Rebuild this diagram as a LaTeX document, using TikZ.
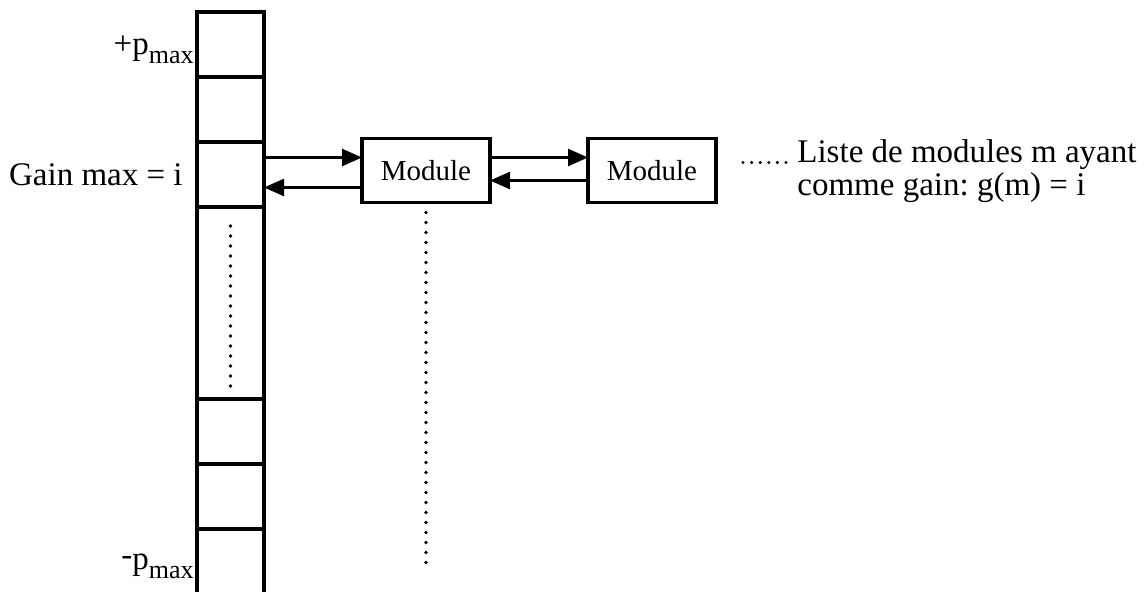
\documentclass[tikz,border=0pt]{standalone}
\usepackage{fontspec}
\setmainfont{Liberation Serif}
\usepackage{xcolor}
\usepackage{tikz}
\usetikzlibrary{arrows.meta,positioning}
\newcommand{\subidx}[1]{\raisebox{-4.5pt}{\fontsize{13}{13}\selectfont #1}}

\begin{document}
\begin{tikzpicture}[
  x=0.5pt, y=-0.5pt,
  font=\fontsize{16.5}{16.5}\selectfont,
  cell/.style={draw, line width=1.8pt, minimum width=33.5pt, minimum height=32.5pt, inner sep=0pt, outer sep=0pt},
  module/.style={draw, line width=1.8pt, minimum width=64pt, minimum height=32pt, outer sep=0pt, font=\fontsize{14.5}{14.5}\selectfont},
  lbl/.style={inner sep=0pt},
  arr/.style={-{Triangle[length=10pt,width=8.5pt]}, line width=1.3pt},
  dots/.style={line width=1.8pt, line cap=round, dash pattern=on 0pt off 5pt},
  lead/.style={line width=1.7pt, line cap=round, dash pattern=on 0pt off 4.3pt}
]
  \useasboundingbox (0,0) rectangle (1147,591);

  % colonne des gains
  \node[cell] (c1) at (230.5,44.5) {};
  \node[cell, below=0pt of c1] (c2) {};
  \node[cell, below=0pt of c2] (c3) {};
  \node[cell, below=0pt of c3, minimum height=96pt] (c4) {};
  \node[cell, below=0pt of c4] (c5) {};
  \node[cell, below=0pt of c5] (c6) {};
  \node[cell, below=0pt of c6] (c7) {};

  \node[lbl, left=1.5pt of c1, yshift=-2.4pt] (pmax) {+p\subidx{max}};
  \node[lbl, left=7pt of c3] (gain) {Gain max = i};
  \node[lbl, left=1.5pt of c7, yshift=-2.4pt] (mmax) {\raisebox{2pt}{-}p\subidx{max}};

  % liste des modules
  \node[module, right=49pt of c3, yshift=2pt] (m1) {Module};
  \node[module, right=49pt of m1] (m2) {Module};
  \node[lbl, anchor=north west, align=left] (lst) at (797,139.5)
    {Liste de modules m ayant\\comme gain:\ g(m) = i};

  \coordinate (a1) at ([yshift=6.5pt]m1.west);
  \coordinate (a2) at ([yshift=-8.5pt]m1.west);
  \draw[arr] (a1 -| c3.east) -- (a1);
  \draw[arr] (a2) -- (a2 -| c3.east);
  \draw[arr] ([yshift=6.5pt]m1.east) -- ([yshift=6.5pt]m2.west);
  \draw[arr] ([yshift=-5pt]m2.west) -- ([yshift=-5pt]m1.east);

  \coordinate (t0) at ([xshift=13.5pt,yshift=4pt]m2.east);
  \draw[lead] (t0) -- ++(21.6pt,0);

  \coordinate[below=181pt of m1.south] (m1end);
  \draw[dots] ([yshift=-5pt]m1.south) -- (m1end);
  \draw[dots] ([yshift=-9.5pt]c4.north) -- ([yshift=4.5pt]c4.south);
\end{tikzpicture}
\end{document}
